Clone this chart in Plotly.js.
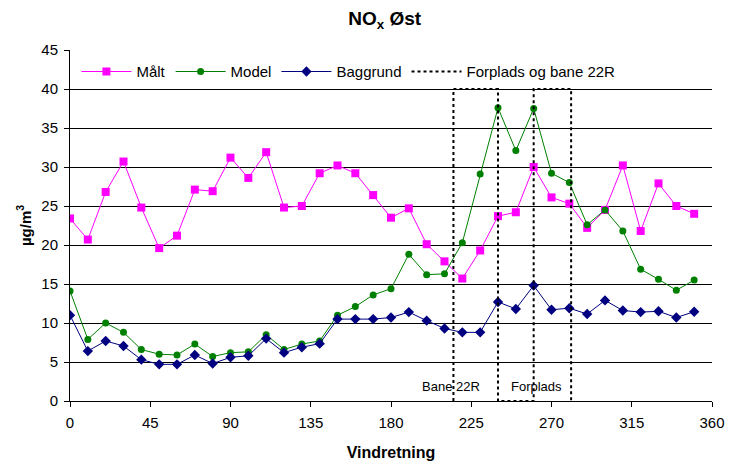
<!DOCTYPE html>
<html>
<head>
<meta charset="utf-8">
<script src="https://cdn.plot.ly/plotly-3.0.1.min.js"></script>
<style>html,body{margin:0;padding:0;background:#fff}#chart{width:730px;height:466px}</style>
</head>
<body>
<div id="chart"></div>
<script>
const angles = [0,10,20,30,40,50,60,70,80,90,100,110,120,130,140,150,160,170,180,190,200,210,220,230,240,250,260,270,280,290,300,310,320,330,340,350];
const malt = [23.4,20.7,26.8,30.7,24.8,19.6,21.2,27.1,26.9,31.2,28.6,31.9,24.8,25.0,29.2,30.2,29.2,26.4,23.5,24.7,20.1,17.9,15.7,19.3,23.7,24.2,30.0,26.1,25.3,22.2,24.5,30.2,21.8,27.9,25.0,24.0];
const model = [14.1,7.9,10.0,8.8,6.6,6.0,5.9,7.3,5.7,6.2,6.3,8.5,6.6,7.3,7.7,11.0,12.1,13.6,14.4,18.8,16.2,16.3,20.3,29.1,37.6,32.1,37.5,29.2,28.0,22.6,24.5,21.8,16.9,15.6,14.2,15.5];
const baggrund = [11.0,6.4,7.7,7.05,5.3,4.7,4.7,5.9,4.8,5.6,5.8,8.0,6.2,6.9,7.35,10.5,10.5,10.5,10.7,11.4,10.3,9.3,8.8,8.8,12.7,11.8,14.8,11.7,11.9,11.15,12.9,11.6,11.4,11.5,10.7,11.45];
const zoneX = [215,215,240,240,260,260,281,281];
const zoneY = [0,40,40,0,0,40,40,0];
const seriesNames = ['Målt','Model','Baggrund','Forplads og bane 22R'];
const zoneLabels = ['Bane 22R','Forplads'];
const zoneLabelX = [213.5,261.5];
const zoneLabelY = [1.9,1.9];

const font = 'Liberation Sans, Arial, sans-serif';
const traces = [
  {x: angles, y: malt, name: seriesNames[0], type:'scatter', mode:'lines+markers',
   line:{color:'#FF00FF', width:1}, marker:{symbol:'square', size:8, color:'#FF00FF'}},
  {x: angles, y: model, name: seriesNames[1], type:'scatter', mode:'lines+markers',
   line:{color:'#008000', width:1}, marker:{symbol:'circle', size:7, color:'#008000'}},
  {x: angles, y: baggrund, name: seriesNames[2], type:'scatter', mode:'lines+markers',
   line:{color:'#000080', width:1}, marker:{symbol:'diamond', size:8, color:'#000080'}},
  {x: zoneX, y: zoneY, name: seriesNames[3], type:'scatter', mode:'lines',
   line:{color:'#000000', width:2, dash:'dot'}}
];
const layout = {
  width:730, height:466,
  margin:{l:70, r:18, t:50, b:65},
  paper_bgcolor:'#fff', plot_bgcolor:'#fff',
  font:{family:font, size:15, color:'#000'},
  title:{text:'NO<sub>x</sub> Øst', font:{family:font, size:19, weight:'bold', color:'#000'}, x:0.527, xanchor:'center', y:0.96, yanchor:'middle'},
  xaxis:{range:[0,360], tickvals:[0,45,90,135,180,225,270,315,360], showgrid:false, zeroline:false,
    showline:true, linecolor:'#000', linewidth:1, ticks:'outside', ticklen:5, tickcolor:'#000',
    tickfont:{size:15}, ticklabelstandoff:3,
    title:{text:'Vindretning', font:{size:16, weight:'bold'}, standoff:16}},
  yaxis:{range:[0,45], dtick:5, tick0:0, showgrid:true, gridcolor:'#000', gridwidth:1, zeroline:false,
    showline:true, linecolor:'#000', linewidth:1, ticks:'outside', ticklen:5, tickcolor:'#000',
    tickfont:{size:15}, ticklabelstandoff:3,
    title:{text:'µg/m<sup>3</sup>', font:{size:15, weight:'bold'}, standoff:6}},
  legend:{orientation:'h', x:0.01, xanchor:'left', y:0.985, yanchor:'top', bgcolor:'rgba(255,255,255,0)',
    font:{size:15}, itemwidth:50, tracegroupgap:0},
  showlegend:true,
  annotations: zoneLabels.map((t,i)=>({x:zoneLabelX[i], y:zoneLabelY[i], xref:'x', yref:'y', text:t, showarrow:false,
    font:{size:13}, xanchor:'center', yanchor:'middle'}))
};
Plotly.newPlot('chart', traces, layout, {displayModeBar:false, staticPlot:true});
</script>
</body>
</html>
